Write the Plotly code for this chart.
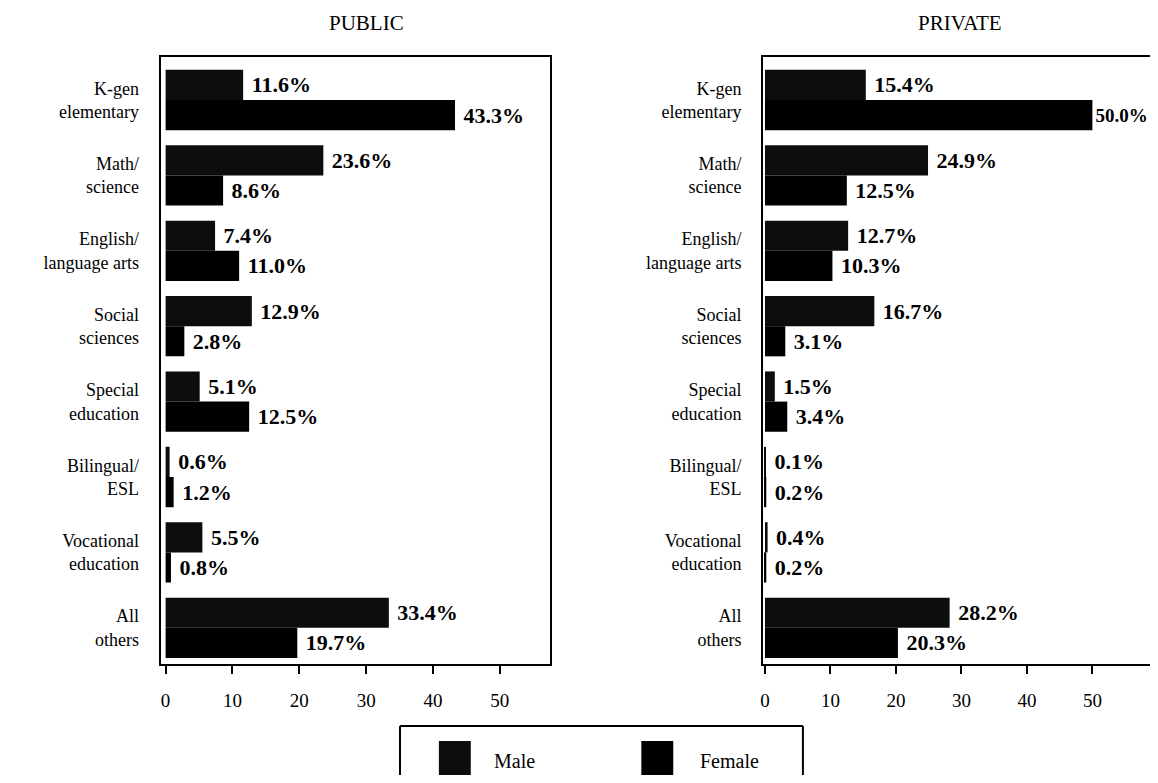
import plotly.graph_objects as go

categories = ["K-gen<br>elementary", "Math/<br>science", "English/<br>language arts",
              "Social<br>sciences", "Special<br>education", "Bilingual/<br>ESL",
              "Vocational<br>education", "All<br>others"]
public_male = [11.6, 23.6, 7.4, 12.9, 5.1, 0.6, 5.5, 33.4]
public_female = [43.3, 8.6, 11.0, 2.8, 12.5, 1.2, 0.8, 19.7]
private_male = [15.4, 24.9, 12.7, 16.7, 1.5, 0.1, 0.4, 28.2]
private_female = [50.0, 12.5, 10.3, 3.1, 3.4, 0.2, 0.2, 20.3]
x_ticks = [0, 10, 20, 30, 40, 50]
panel_titles = ["PUBLIC", "PRIVATE"]

# the page body has an 8px margin on every side; lay out in reference pixel coordinates
OFF = 8
W, H = 1158 - 2 * OFF, 783 - 2 * OFF
SERIF = "Liberation Serif"
MALE_C = "#0d0d0d"
FEMALE_C = "#000000"
LABEL_SIZE = 22


def px(x):
    return (x - OFF) / W


def py(y):
    return 1 - (y - OFF) / H


fig = go.Figure()


def add_bars(vals, name, color, xa, ya, xmax=None):
    texts, sizes = [], []
    for v in vals:
        s = f"{v:.1f}%"
        if xmax is not None and v > xmax - 10:
            texts.append(s)
            sizes.append(LABEL_SIZE - 3)
        else:
            texts.append("\u00a0" + s)
            sizes.append(LABEL_SIZE)
    fig.add_trace(go.Bar(
        y=categories, x=vals, orientation="h", name=name,
        marker=dict(color=color, line=dict(width=0)),
        text=texts, textposition="outside", cliponaxis=False, constraintext="none",
        textfont=dict(family=SERIF, size=sizes, color="black", weight="bold"),
        xaxis=xa, yaxis=ya, showlegend=False,
    ))


X1_RANGE = [-0.75, 57.45]
X2_RANGE = [-0.3, 58.8]

add_bars(public_male, "Male", MALE_C, "x", "y")
add_bars(public_female, "Female", FEMALE_C, "x", "y")
add_bars(private_male, "Male", MALE_C, "x2", "y2", X2_RANGE[1])
add_bars(private_female, "Female", FEMALE_C, "x2", "y2", X2_RANGE[1])

ydom = [py(664), py(57)]
y_range = [len(categories) - 1 + 0.48, -0.57]
axis_font = dict(family=SERIF, size=19, color="black")

common_x = dict(tickvals=x_ticks, ticktext=[str(t) for t in x_ticks],
                ticks="outside", ticklen=8, tickwidth=2, tickcolor="black",
                showline=True, linecolor="black", linewidth=2,
                showgrid=False, zeroline=False, tickfont=axis_font,
                ticklabelstandoff=10, fixedrange=True)
common_y = dict(range=y_range, showline=True, linecolor="black", linewidth=2,
                showgrid=False, zeroline=False, ticks="",
                tickfont=dict(family=SERIF, size=18, color="black"),
                ticklabelstandoff=16, fixedrange=True)

fig.update_layout(
    width=W, height=H,
    margin=dict(l=0, r=0, t=0, b=0),
    paper_bgcolor="white", plot_bgcolor="white",
    barmode="group", bargap=0.2, bargroupgap=0.0,
    xaxis=dict(domain=[px(158), px(548)], range=X1_RANGE, mirror=True, anchor="y", **common_x),
    yaxis=dict(domain=ydom, anchor="x", mirror=True, **common_y),
    xaxis2=dict(domain=[px(762), 1.0], range=X2_RANGE, mirror=True, anchor="y2", **common_x),
    yaxis2=dict(domain=ydom, anchor="x2", mirror=False, **common_y),
)

# panel titles
for title, xc in zip(panel_titles, [364, 960]):
    fig.add_annotation(text=title, xref="paper", yref="paper", x=px(xc), y=py(23),
                       xanchor="center", yanchor="middle",
                       showarrow=False, font=dict(family=SERIF, size=21, color="black"))

# legend box (drawn manually to match the large swatches)
lw = 2
fig.add_shape(type="line", xref="paper", yref="paper", x0=px(398), x1=px(802), y0=py(726), y1=py(726),
              line=dict(color="black", width=lw))
fig.add_shape(type="line", xref="paper", yref="paper", x0=px(398), x1=px(398), y0=py(726), y1=py(790),
              line=dict(color="black", width=lw))
fig.add_shape(type="line", xref="paper", yref="paper", x0=px(802), x1=px(802), y0=py(726), y1=py(790),
              line=dict(color="black", width=lw))
for name, color, sx, tx in [("Male", MALE_C, 437, 490), ("Female", FEMALE_C, 640, 697)]:
    fig.add_shape(type="rect", xref="paper", yref="paper", x0=px(sx), x1=px(sx + 32),
                  y0=py(778), y1=py(741), fillcolor=color, line=dict(width=0))
    fig.add_annotation(text=name, xref="paper", yref="paper", x=px(tx), y=py(761),
                       xanchor="left", yanchor="middle", showarrow=False,
                       font=dict(family=SERIF, size=20, color="black"))

fig.write_html("out.html")
